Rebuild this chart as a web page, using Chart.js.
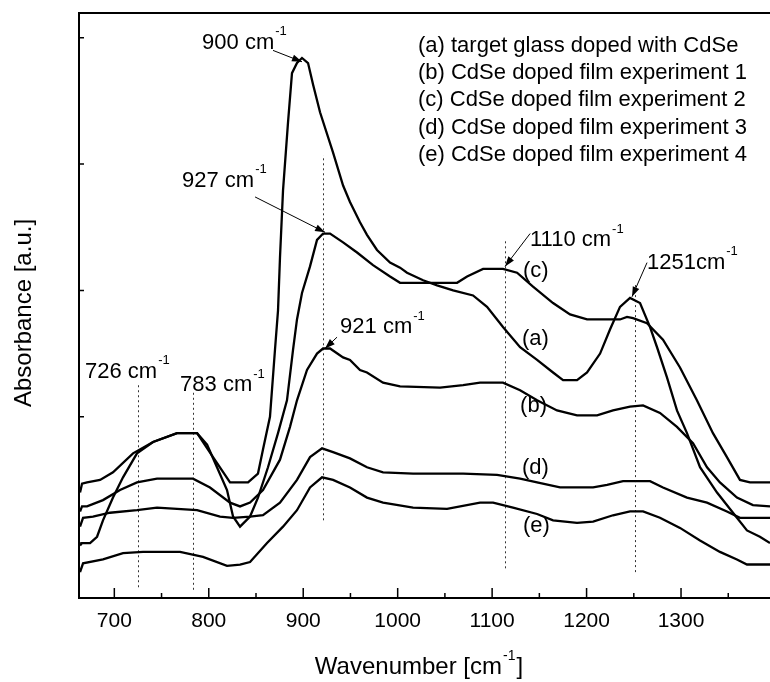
<!DOCTYPE html>
<html>
<head>
<meta charset="utf-8">
<script src="https://cdn.jsdelivr.net/npm/chart.js@4/dist/chart.umd.min.js"></script>
<style>
  html, body { margin: 0; padding: 0; background: #fff; }
  #wrap { width: 770px; height: 682px; position: relative; }
</style>
</head>
<body>
<div id="wrap"><canvas id="chart"></canvas></div>
<script>
// axis ticks (wavenumber, cm-1) and unlabelled absorbance ticks
const xTicks = [700, 800, 900, 1000, 1100, 1200, 1300];
const xMinorTicks = [750, 850, 950, 1050, 1150, 1250, 1350];
const yTicks = [0, 1, 2, 3, 4];

// spectra: [wavenumber, absorbance a.u.]
const curveA = [
    [663.7, 0.40], [665.8, 0.47], [671.1, 0.48], [684.9, 0.50], [698.6, 0.56], [719.8, 0.71],
    [741.0, 0.80], [766.4, 0.87], [787.6, 0.87], [804.5, 0.68], [822.5, 0.48], [841.6, 0.48],
    [852.1, 0.55], [857.4, 0.74], [864.8, 1.00], [870.1, 1.53], [873.3, 1.84], [875.4, 2.26],
    [878.6, 2.79], [883.9, 3.33], [888.1, 3.72], [893.4, 3.80], [898.7, 3.84], [905.1, 3.80],
    [910.4, 3.63], [917.8, 3.41], [931.6, 3.09], [942.2, 2.83], [949.5, 2.70], [960.1, 2.54],
    [967.5, 2.44], [978.1, 2.32], [991.9, 2.22], [1002.5, 2.18], [1009.9, 2.14], [1026.9, 2.08],
    [1041.7, 2.04], [1058.7, 2.00], [1079.8, 1.96], [1094.6, 1.87], [1111.5, 1.71], [1129.6, 1.55],
    [1147.6, 1.45], [1164.5, 1.35], [1175.1, 1.29], [1189.9, 1.29], [1200.5, 1.35], [1214.3, 1.50],
    [1224.8, 1.69], [1235.4, 1.87], [1246.0, 1.94], [1256.6, 1.90], [1267.2, 1.71], [1274.6, 1.55],
    [1285.2, 1.31], [1295.7, 1.05], [1306.3, 0.87], [1320.1, 0.60], [1338.1, 0.40], [1355.0, 0.24],
    [1369.8, 0.10], [1383.5, 0.05], [1394.2, 0.00]
];
const curveB = [
    [663.7, 0.25], [665.8, 0.29], [671.1, 0.29], [688.0, 0.34], [706.0, 0.42], [724.0, 0.48],
    [745.2, 0.51], [783.3, 0.51], [801.3, 0.44], [822.5, 0.32], [833.1, 0.29], [843.7, 0.32],
    [857.4, 0.42], [875.4, 0.66], [886.0, 0.92], [893.4, 1.13], [904.0, 1.37], [914.6, 1.50],
    [921.0, 1.54], [928.4, 1.54], [942.2, 1.47], [949.5, 1.45], [960.1, 1.37], [967.5, 1.35],
    [984.5, 1.27], [1002.5, 1.24], [1044.9, 1.23], [1069.3, 1.25], [1087.2, 1.27], [1111.5, 1.27],
    [1129.6, 1.21], [1147.6, 1.13], [1168.7, 1.05], [1189.9, 1.01], [1211.1, 1.01], [1228.0, 1.05],
    [1246.0, 1.08], [1259.8, 1.09], [1277.7, 1.03], [1295.7, 0.92], [1312.7, 0.79], [1327.5, 0.60],
    [1341.2, 0.48], [1359.2, 0.36], [1376.1, 0.30], [1394.2, 0.29]
];
const curveC = [
    [663.7, -0.02], [665.8, 0.00], [674.3, 0.00], [681.7, 0.05], [688.0, 0.18], [698.6, 0.36],
    [709.2, 0.52], [724.0, 0.71], [741.0, 0.80], [766.4, 0.87], [787.6, 0.87], [798.2, 0.78],
    [808.7, 0.60], [819.3, 0.42], [825.7, 0.21], [833.1, 0.13], [843.7, 0.21], [852.1, 0.36],
    [862.7, 0.60], [873.3, 0.87], [882.8, 1.13], [889.2, 1.53], [893.4, 1.77], [898.7, 1.98],
    [907.2, 2.19], [914.6, 2.40], [921.0, 2.45], [928.4, 2.45], [942.2, 2.38], [957.0, 2.30],
    [973.9, 2.20], [991.9, 2.11], [1002.5, 2.06], [1034.3, 2.06], [1062.9, 2.06], [1073.5, 2.11],
    [1090.4, 2.17], [1111.5, 2.17], [1126.4, 2.14], [1143.3, 2.03], [1164.5, 1.90], [1182.5, 1.81],
    [1200.5, 1.77], [1235.4, 1.77], [1242.8, 1.79], [1249.2, 1.78], [1264.0, 1.74], [1280.9, 1.61],
    [1298.9, 1.39], [1316.8, 1.13], [1333.8, 0.87], [1348.6, 0.68], [1362.4, 0.50], [1373.0, 0.48],
    [1394.2, 0.48]
];
const curveD = [
    [663.7, 0.13], [666.9, 0.20], [677.4, 0.21], [695.4, 0.24], [724.0, 0.26], [745.2, 0.28],
    [787.6, 0.26], [811.9, 0.21], [825.7, 0.20], [843.7, 0.21], [857.4, 0.22], [875.4, 0.32],
    [893.4, 0.50], [907.2, 0.68], [919.9, 0.75], [931.6, 0.72], [949.5, 0.67], [967.5, 0.60],
    [984.5, 0.56], [1016.3, 0.55], [1069.3, 0.55], [1105.2, 0.54], [1129.6, 0.51], [1147.6, 0.48],
    [1171.9, 0.44], [1206.9, 0.44], [1221.7, 0.46], [1238.6, 0.49], [1267.2, 0.49], [1280.9, 0.44],
    [1306.3, 0.36], [1327.5, 0.32], [1348.6, 0.25], [1362.4, 0.20], [1394.2, 0.20]
];
const curveE = [
    [663.7, -0.23], [666.9, -0.16], [688.0, -0.13], [709.2, -0.08], [730.4, -0.07], [769.6, -0.07],
    [793.9, -0.11], [819.3, -0.18], [833.1, -0.17], [843.7, -0.15], [861.7, 0.00], [878.6, 0.13],
    [893.4, 0.26], [907.2, 0.44], [919.9, 0.52], [931.6, 0.50], [949.5, 0.44], [967.5, 0.36],
    [984.5, 0.32], [1016.3, 0.28], [1052.3, 0.27], [1087.2, 0.32], [1101.0, 0.32], [1122.1, 0.28],
    [1147.6, 0.23], [1164.5, 0.18], [1189.9, 0.16], [1206.9, 0.17], [1228.0, 0.22], [1246.0, 0.25],
    [1259.8, 0.25], [1277.7, 0.20], [1298.9, 0.12], [1320.1, 0.02], [1341.2, -0.07], [1359.2, -0.13],
    [1369.8, -0.17], [1394.2, -0.17]
];

const legendLines = [
    '(a) target glass doped with CdSe',
    '(b) CdSe doped film experiment 1',
    '(c) CdSe doped film experiment 2',
    '(d) CdSe doped film experiment 3',
    '(e) CdSe doped film experiment 4'
];

// curve tags next to the traces: [text, wavenumber, absorbance]
const curveTags = [
    ['(c)', 1132.7, 2.11],
    ['(a)', 1131.6, 1.57],
    ['(b)', 1129.6, 1.04],
    ['(d)', 1131.6, 0.55],
    ['(e)', 1132.7, 0.09]
];

// peak notes: text anchor plus optional arrow (tail -> head), all in data units
const peakNotes = [
    { text: '900 cm', x: 792.9, y: 3.91, arrow: [868.0, 3.90, 898.7, 3.81] },
    { text: '927 cm', x: 771.7, y: 2.82, arrow: [849.0, 2.74, 923.1, 2.46] },
    { text: '921 cm', x: 939.0, y: 1.66, arrow: [935.8, 1.63, 923.1, 1.54] },
    { text: '726 cm', x: 669.0, y: 1.31, arrow: null },
    { text: '783 cm', x: 769.6, y: 1.20, arrow: null },
    { text: '1110 cm', x: 1140.1, y: 2.35, arrow: [1140.2, 2.45, 1113.7, 2.19] },
    { text: '1251cm', x: 1264.0, y: 2.17, arrow: [1264.0, 2.22, 1248.1, 1.95] }
];

// dotted markers: [wavenumber, from, to]
const markerLines = [
    [725.1, -0.35, 1.25],
    [783.3, -0.37, 1.19],
    [921.0, 0.18, 3.07],
    [1113.7, -0.20, 2.40],
    [1251.3, -0.23, 2.06]
];

const FONT = '"Liberation Sans", Arial, sans-serif';

function drawSup(ctx, text, x, y, size) {
    ctx.font = size + 'px ' + FONT;
    ctx.fillText(text, x, y);
    const w = ctx.measureText(text).width;
    ctx.font = Math.round(size * 0.6) + 'px ' + FONT;
    ctx.fillText('-1', x + w + 1, y - size * 0.62);
    return w;
}

function arrowHead(ctx, x0, y0, x1, y1) {
    const ang = Math.atan2(y1 - y0, x1 - x0);
    const len = 10, half = 3.5;
    ctx.beginPath();
    ctx.moveTo(x1, y1);
    ctx.lineTo(x1 - len * Math.cos(ang) + half * Math.sin(ang), y1 - len * Math.sin(ang) - half * Math.cos(ang));
    ctx.lineTo(x1 - len * Math.cos(ang) - half * Math.sin(ang), y1 - len * Math.sin(ang) + half * Math.cos(ang));
    ctx.closePath();
    ctx.fill();
}

const markerPlugin = {
    id: 'markers',
    beforeDatasetsDraw(chart) {
        const { ctx, scales: { x, y } } = chart;
        ctx.save();
        ctx.strokeStyle = '#333';
        ctx.lineWidth = 1;
        ctx.setLineDash([2, 3]);
        markerLines.forEach(([wn, y0, y1]) => {
            const px = Math.round(x.getPixelForValue(wn)) + 0.5;
            ctx.beginPath();
            ctx.moveTo(px, y.getPixelForValue(y0));
            ctx.lineTo(px, y.getPixelForValue(y1));
            ctx.stroke();
        });
        ctx.restore();
    }
};

const framePlugin = {
    id: 'frame',
    afterDraw(chart) {
        const { ctx, chartArea: a, scales: { x, y } } = chart;
        ctx.save();
        ctx.strokeStyle = '#000';
        ctx.fillStyle = '#000';

        // frame: left, bottom, top (right edge is cut off)
        ctx.lineWidth = 2;
        ctx.beginPath();
        ctx.moveTo(a.right, a.top);
        ctx.lineTo(a.left, a.top);
        ctx.lineTo(a.left, a.bottom);
        ctx.lineTo(a.right, a.bottom);
        ctx.stroke();

        // inward tick marks
        ctx.lineWidth = 1.5;
        ctx.beginPath();
        xTicks.forEach(v => {
            const px = x.getPixelForValue(v);
            ctx.moveTo(px, a.bottom);
            ctx.lineTo(px, a.bottom - 10);
        });
        xMinorTicks.forEach(v => {
            const px = x.getPixelForValue(v);
            ctx.moveTo(px, a.bottom);
            ctx.lineTo(px, a.bottom - 5);
        });
        yTicks.forEach(v => {
            const py = y.getPixelForValue(v);
            ctx.moveTo(a.left, py);
            ctx.lineTo(a.left + 5, py);
        });
        ctx.stroke();

        // axis titles
        ctx.textBaseline = 'alphabetic';
        ctx.font = '24px ' + FONT;
        const main = 'Wavenumber [cm';
        const wMain = ctx.measureText(main).width;
        ctx.font = '14px ' + FONT;
        const wSup = ctx.measureText('-1').width;
        ctx.font = '24px ' + FONT;
        const wEnd = ctx.measureText(']').width;
        let tx = 419 - (wMain + wSup + wEnd + 2) / 2;
        ctx.textAlign = 'left';
        ctx.fillText(main, tx, 674);
        ctx.font = '14px ' + FONT;
        ctx.fillText('-1', tx + wMain + 1, 660);
        ctx.font = '24px ' + FONT;
        ctx.fillText(']', tx + wMain + wSup + 2, 674);

        ctx.save();
        ctx.translate(31, 313);
        ctx.rotate(-Math.PI / 2);
        ctx.textAlign = 'center';
        ctx.font = '24px ' + FONT;
        ctx.fillText('Absorbance [a.u.]', 0, 0);
        ctx.restore();

        // legend block (text only)
        ctx.textAlign = 'left';
        ctx.font = '22px ' + FONT;
        legendLines.forEach((t, i) => {
            ctx.fillText(t, x.getPixelForValue(1021.5), y.getPixelForValue(3.89 - i * 0.216));
        });

        // curve tags
        curveTags.forEach(([t, wn, v]) => {
            ctx.font = '22px ' + FONT;
            ctx.fillText(t, x.getPixelForValue(wn), y.getPixelForValue(v));
        });

        // peak notes with arrows
        ctx.lineWidth = 1;
        peakNotes.forEach(n => {
            drawSup(ctx, n.text, x.getPixelForValue(n.x), y.getPixelForValue(n.y), 22);
            if (n.arrow) {
                const [x0, y0, x1, y1] = n.arrow;
                const p0 = [x.getPixelForValue(x0), y.getPixelForValue(y0)];
                const p1 = [x.getPixelForValue(x1), y.getPixelForValue(y1)];
                ctx.beginPath();
                ctx.moveTo(p0[0], p0[1]);
                ctx.lineTo(p1[0], p1[1]);
                ctx.stroke();
                arrowHead(ctx, p0[0], p0[1], p1[0], p1[1]);
            }
        });
        ctx.restore();
    }
};

function toPoints(pairs) {
    return pairs.map(([wn, abs]) => ({ x: wn, y: abs }));
}

const seriesList = [
    { label: '(a) target glass doped with CdSe', data: curveA },
    { label: '(b) CdSe doped film experiment 1', data: curveB },
    { label: '(c) CdSe doped film experiment 2', data: curveC },
    { label: '(d) CdSe doped film experiment 3', data: curveD },
    { label: '(e) CdSe doped film experiment 4', data: curveE }
];

new Chart(document.getElementById('chart'), {
    type: 'line',
    data: {
        datasets: seriesList.map(s => ({
            label: s.label,
            data: toPoints(s.data),
            borderColor: '#000',
            borderWidth: 2.3,
            pointRadius: 0,
            tension: 0,
            fill: false
        }))
    },
    options: {
        responsive: true,
        maintainAspectRatio: false,
        animation: false,
        layout: { padding: { left: 79, top: 13, right: 0, bottom: 0 } },
        plugins: {
            legend: { display: false },
            tooltip: { enabled: false }
        },
        scales: {
            x: {
                type: 'linear',
                min: 662.6,
                max: 1394.2,
                afterBuildTicks: (scale) => { scale.ticks = xTicks.map(v => ({ value: v })); },
                afterFit: (scale) => { scale.height = 84; },
                grid: { display: false },
                border: { display: false },
                ticks: {
                    color: '#000',
                    padding: 3,
                    maxRotation: 0,
                    font: { family: FONT, size: 21 },
                    callback: (v) => String(v)
                }
            },
            y: {
                display: false,
                min: -0.435,
                max: 4.196
            }
        }
    },
    plugins: [markerPlugin, framePlugin]
});
</script>
</body>
</html>
